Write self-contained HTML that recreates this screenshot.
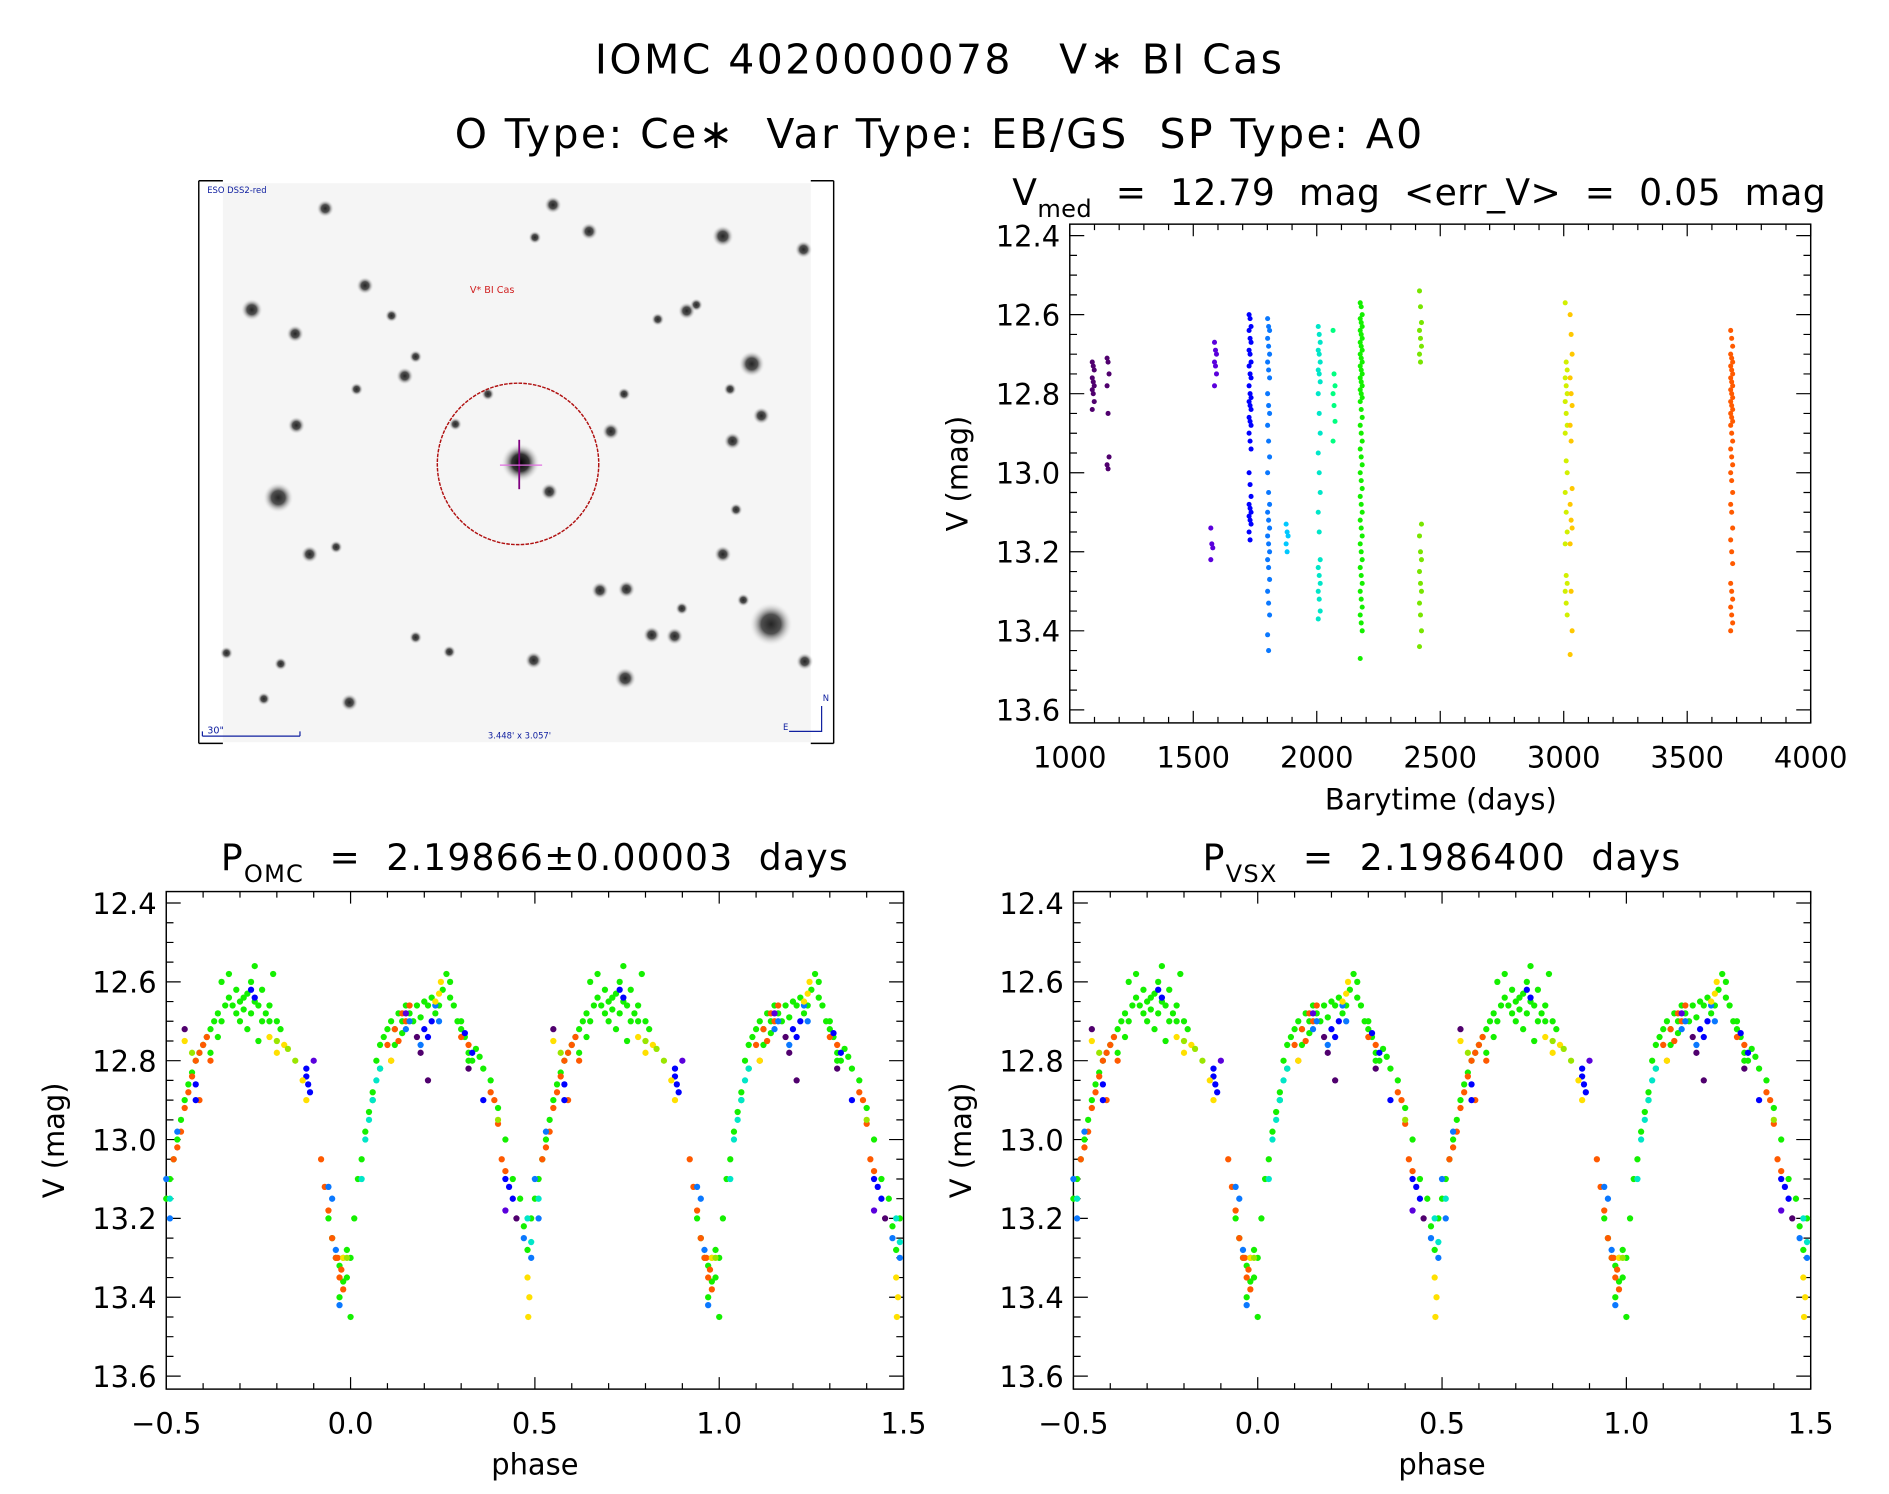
<!DOCTYPE html>
<html><head><meta charset="utf-8"><style>
html,body{margin:0;padding:0;background:#fff;}
svg{display:block;font-family:"DejaVu Sans","Liberation Sans",sans-serif;}
text{white-space:pre;}
</style></head><body>
<svg id="fig" width="1889" height="1494" viewBox="0 0 1568 1240" xmlns="http://www.w3.org/2000/svg">
<defs>
<radialGradient id="star"><stop offset="0" stop-color="#000"/><stop offset="0.45" stop-color="#333"/><stop offset="1" stop-color="#eee" stop-opacity="0"/></radialGradient>
</defs>
<text x="780" y="61" font-size="34" text-anchor="middle" letter-spacing="2">IOMC 4020000078   V∗ BI Cas</text>
<text x="780" y="123" font-size="34" text-anchor="middle" letter-spacing="2">O Type: Ce∗  Var Type: EB/GS  SP Type: A0</text>
<g id="img"></g>
<g id="p1"></g>
<g id="p2"></g>
<g id="p3"></g>
</svg>
<script>
// ---- time series data ----
const groupTimes = [1095,1155,1575,1590,1730,1805,1880,2010,2070,2180,2420,3010,3030,3680];
const groupColors = ['#50006e','#50006e','#5a00dc','#5a00dc','#0000ff','#0a78ff','#00c8ff','#00e6c8','#00ff80','#14f000','#78e600','#d2f000','#ffc800','#ff5a00'];
const groupMags = [
 [12.72,12.73,12.74,12.76,12.77,12.78,12.79,12.8,12.82,12.84],
 [12.71,12.72,12.75,12.78,12.85,12.96,12.98,12.99],
 [13.14,13.18,13.19,13.22],
 [12.67,12.69,12.7,12.72,12.73,12.75,12.78],
 [12.6,12.61,12.63,12.64,12.66,12.67,12.69,12.7,12.72,12.73,12.75,12.76,12.78,12.8,12.81,12.82,12.83,12.84,12.86,12.87,12.88,12.9,12.92,12.94,13.0,13.03,13.06,13.08,13.09,13.1,13.11,13.12,13.13,13.15,13.17],
 [12.61,12.63,12.64,12.66,12.68,12.7,12.72,12.74,12.76,12.8,12.83,12.85,12.88,12.92,12.96,13.0,13.05,13.08,13.1,13.12,13.14,13.16,13.18,13.2,13.22,13.24,13.27,13.3,13.33,13.36,13.41,13.45],
 [13.13,13.15,13.16,13.18,13.2],
 [12.63,12.65,12.67,12.69,12.7,12.72,12.74,12.75,12.77,12.8,12.85,12.9,12.95,13.0,13.05,13.1,13.15,13.22,13.24,13.26,13.28,13.3,13.32,13.35,13.37],
 [12.64,12.75,12.78,12.8,12.83,12.87,12.92],
 [12.57,12.58,12.6,12.61,12.62,12.63,12.64,12.65,12.66,12.67,12.68,12.69,12.7,12.71,12.72,12.73,12.74,12.75,12.76,12.77,12.78,12.79,12.8,12.81,12.82,12.84,12.86,12.88,12.9,12.92,12.94,12.96,12.98,13.0,13.02,13.04,13.06,13.08,13.1,13.12,13.14,13.16,13.18,13.2,13.22,13.24,13.26,13.28,13.3,13.32,13.34,13.36,13.38,13.4,13.47],
 [12.54,12.58,12.62,12.64,12.66,12.68,12.7,12.72,13.13,13.16,13.2,13.22,13.25,13.28,13.3,13.33,13.36,13.4,13.44],
 [12.57,12.72,12.74,12.76,12.78,12.8,12.82,12.85,12.88,12.9,12.97,13.0,13.05,13.1,13.15,13.18,13.26,13.28,13.3,13.33,13.36],
 [12.6,12.65,12.7,12.76,12.8,12.83,12.88,12.92,13.04,13.08,13.12,13.14,13.18,13.3,13.4,13.46],
 [12.64,12.66,12.68,12.7,12.71,12.72,12.73,12.74,12.75,12.76,12.77,12.78,12.79,12.8,12.81,12.82,12.83,12.84,12.85,12.86,12.87,12.88,12.9,12.92,12.94,12.96,12.98,13.0,13.02,13.05,13.08,13.1,13.14,13.17,13.2,13.23,13.28,13.3,13.32,13.34,13.36,13.38,13.4]
];
// ---- phase data (phase in [-0.5,0.5)) ----
const phaseColors = ['#14f000','#ff5a00','#0000ff','#0a78ff','#00e6c8','#ffe000','#9ae600','#50006e','#5a00dc'];
const phasePh = [
 [-0.5,-0.49,-0.48,-0.47,-0.46,-0.45,-0.44,-0.43,-0.42,-0.41,-0.4,-0.39,-0.38,-0.37,-0.36,-0.35,-0.34,-0.33,-0.32,-0.31,-0.3,-0.29,-0.28,-0.27,-0.26,-0.25,-0.24,-0.23,-0.22,-0.21,-0.2,-0.19,-0.35,-0.3,-0.28,-0.33,-0.26,-0.38,-0.36,-0.25,-0.22,-0.31,-0.29,-0.27,-0.24,-0.06,-0.05,-0.04,-0.03,-0.02,-0.01,0.0,-0.03,0.0,0.01,0.02,0.03,0.04,0.05,0.06,0.07,0.08,0.09,0.1,0.11,0.12,0.13,0.14,0.15,0.16,0.18,0.2,0.22,0.24,0.25,0.26,0.27,0.28,0.29,0.3,0.31,0.32,0.33,0.34,0.36,0.38,0.4,0.42,0.44,0.46,0.47,0.48,0.49,0.12,0.14,0.17,0.19,0.21,0.23,0.27,0.3,0.32,0.35,-0.01,-0.02,0.08,0.06],
 [-0.48,-0.46,-0.45,-0.44,-0.43,-0.42,-0.41,-0.4,-0.39,-0.38,-0.41,-0.47,-0.08,-0.07,-0.06,-0.05,-0.04,-0.03,-0.02,-0.025,-0.035,0.1,0.12,0.14,0.16,0.13,0.11,0.15,0.3,0.32,0.38,0.39,0.4,0.41,0.42],
 [-0.12,-0.115,-0.11,-0.12,-0.42,-0.42,0.2,0.21,0.22,0.36,0.42,0.43,0.44,0.31,-0.27,-0.26,0.33],
 [-0.5,-0.49,-0.05,-0.06,-0.04,-0.03,0.15,0.16,0.23,0.24,0.47,0.49,-0.47,0.19],
 [0.03,0.04,0.05,0.06,0.07,0.48,0.49,-0.49,0.08],
 [-0.22,-0.2,-0.18,-0.13,-0.12,0.23,0.24,0.245,0.48,0.485,0.482,-0.02,0.11,-0.45],
 [-0.2,-0.17,-0.15,0.4,-0.01,-0.43],
 [-0.45,0.18,0.19,0.32,0.21,0.45],
 [0.15,0.42,-0.1]
];
const phaseMag = [
 [13.15,13.1,13.05,13.0,12.95,12.9,12.86,12.83,12.8,12.78,12.76,12.74,12.72,12.7,12.68,12.7,12.66,12.64,12.66,12.62,12.65,12.67,12.63,12.6,12.65,12.66,12.62,12.68,12.66,12.58,12.7,12.72,12.6,12.7,12.72,12.58,12.56,12.78,12.74,12.75,12.7,12.68,12.64,12.68,12.7,13.2,13.25,13.3,13.32,13.3,13.35,13.3,13.4,13.45,13.2,13.1,13.05,12.98,12.93,12.88,12.8,12.76,12.74,12.72,12.7,12.72,12.68,12.7,12.66,12.68,12.66,12.65,12.64,12.66,12.62,12.58,12.6,12.66,12.7,12.72,12.74,12.78,12.8,12.77,12.82,12.85,12.92,13.0,13.1,13.15,13.22,13.28,13.2,12.76,12.73,12.7,12.69,12.66,12.68,12.64,12.7,12.8,12.79,13.28,13.36,12.82,12.9],
 [13.05,12.98,12.92,12.88,12.84,12.8,12.78,12.76,12.74,12.8,12.9,13.02,13.05,13.12,13.18,13.25,13.3,13.35,13.38,13.33,13.3,12.76,12.72,12.68,12.66,12.75,12.8,12.7,12.74,12.76,12.88,12.9,12.96,13.05,13.08],
 [12.82,12.86,12.88,12.84,12.86,12.9,12.72,12.74,12.7,12.9,13.1,13.12,13.15,12.73,12.62,12.64,12.78],
 [13.1,13.2,13.15,13.12,13.28,13.42,12.72,12.7,12.66,12.7,13.25,13.3,12.98,12.76],
 [13.1,13.0,12.95,12.9,12.85,13.2,13.26,13.15,12.82],
 [12.74,12.78,12.76,12.85,12.9,12.65,12.63,12.6,13.35,13.4,13.45,13.3,12.8,12.75],
 [12.75,12.77,12.8,12.95,13.3,12.78],
 [12.72,12.74,12.78,12.82,12.85,13.2],
 [12.68,13.18,12.8]
];
const yTicks = [12.4,12.6,12.8,13.0,13.2,13.4,13.6];
const yTickLabels = ['12.4','12.6','12.8','13.0','13.2','13.4','13.6'];
const tTicks = [1000,1500,2000,2500,3000,3500,4000];
const tTickLabels = ['1000','1500','2000','2500','3000','3500','4000'];
const phTicks = [-0.5,0,0.5,1.0,1.5];
const phTickLabels = ['\u22120.5','0.0','0.5','1.0','1.5'];
// sky image stars [x,y,r]
const stars = [[209,257,5],[245,277,4],[303,237,4],[336,312,4],[345,296,3],[325,262,3],[246,353,4],[231,413,7],[296,323,3],[270,173,4],[459,170,4],[489,192,4],[600,196,5],[578,253,3],[570,258,4],[624,302,6],[606,323,3],[632,345,4],[608,366,4],[456,408,4],[507,358,4],[518,327,3],[546,265,3],[444,197,3],[667,207,4],[257,460,4],[279,454,3],[498,490,4],[520,489,4],[600,460,4],[611,423,3],[617,498,3],[640,518,10],[541,527,4],[560,528,4],[443,548,4],[345,529,3],[373,541,3],[290,583,4],[219,580,3],[519,563,5],[566,505,3],[668,549,4],[233,551,3],[188,542,3],[405,327,3],[378,352,3]];

const NS='http://www.w3.org/2000/svg';
function mk(parent,tag,attrs,txt){const e=document.createElementNS(NS,tag);for(const k in attrs)e.setAttribute(k,attrs[k]);if(txt!==undefined)e.textContent=txt;parent.appendChild(e);return e;}

// --- sky image ---
(function(){
 const g=document.getElementById('img');
 const bg=mk(g,'rect',{x:185,y:152,width:488,height:464,fill:'#f5f5f5'});
 
 
 stars.forEach(s=>{const c=mk(g,'circle',{cx:s[0],cy:s[1],r:s[2]*1.8,fill:'url(#star)',opacity:0.85});
  
  });
 const t=mk(g,'circle',{cx:432,cy:384,r:16,fill:'url(#star)'});
 
 
 const ring=mk(g,'ellipse',{cx:430,cy:385,rx:67,ry:67,fill:'none',stroke:'#b01010','stroke-width':1.2,'stroke-dasharray':'3 1'});
 
 
 mk(g,'line',{x1:431,y1:365,x2:431,y2:406,stroke:'#800080','stroke-width':1.5});
 mk(g,'line',{x1:415,y1:386,x2:450,y2:386,stroke:'#e070e0','stroke-width':1});
 const fr=mk(g,'path',{d:'M165 150 V617 M165 150 H185 M165 617 H185 M692 150 V617 M673 150 H692 M673 617 H692',stroke:'#000','stroke-width':1.2,fill:'none'});
 
 
 const l1=mk(g,'text',{x:172,y:160,'font-size':7,fill:'#1020a0'},'ESO DSS2-red');
 
 
 const l2=mk(g,'text',{x:390,y:243,'font-size':8,fill:'#d02020'},'V* BI Cas');
 
 
 mk(g,'path',{d:'M168 611 H249 M168 607 V611 M249 607 V611',stroke:'#1020a0','stroke-width':1,fill:'none'});
 const l3=mk(g,'text',{x:172,y:609,'font-size':8,fill:'#1020a0'},'30"');
 
 
 const l4=mk(g,'text',{x:405,y:613,'font-size':7,fill:'#1020a0'},"3.448' x 3.057'");
 
 
 mk(g,'path',{d:'M655 607 H682 V586',stroke:'#1020a0','stroke-width':1,fill:'none'});
 mk(g,'text',{x:683,y:582,'font-size':7,fill:'#1020a0'},'N');
 mk(g,'text',{x:650,y:606,'font-size':7,fill:'#1020a0'},'E');
})();

function axes(g,x0,x1,y0,y1,xmin,xmax,xt,xtl,xminor,ymin,ymax){
 const sx=v=>x0+(v-xmin)/(xmax-xmin)*(x1-x0);
 const sy=v=>y0+(v-ymin)/(ymax-ymin)*(y1-y0);
 const fr=mk(g,'rect',{x:x0,y:y0,width:x1-x0,height:y1-y0,fill:'none',stroke:'#000','stroke-width':1.2});
 
 
 let d='';
 for(let v=Math.round(xmin/xminor);v*xminor<=xmax+1e-9;v++){const x=sx(v*xminor);const isMaj=xt.some(t=>Math.abs(t-v*xminor)<1e-6);const L=isMaj?10:5;d+=`M${x} ${y1}V${y1-L}M${x} ${y0}V${y0+L}`;}
 for(let v=Math.ceil(ymin/0.05-1e-6);v*0.05<=ymax+1e-9;v++){const y=sy(v*0.05);const L=(v%4===0)?12:6;d+=`M${x0} ${y}H${x0+L}M${x1} ${y}H${x1-L}`;}
 mk(g,'path',{d:d,stroke:'#000','stroke-width':1,fill:'none'});
 xt.forEach((t,i)=>{const e=mk(g,'text',{x:sx(t),y:y1+37,'font-size':24,'text-anchor':'middle'},xtl[i]);
  
  });
 yTicks.forEach((t,i)=>{const e=mk(g,'text',{x:x0-8,y:sy(t)+9,'font-size':24,'text-anchor':'end'},yTickLabels[i]);
  
  });
 const yl=mk(g,'text',{x:0,y:0,'font-size':24,'text-anchor':'middle',transform:`translate(${x0-85},${(y0+y1)/2}) rotate(-90)`},'V (mag)');
 
 
 return {sx,sy};
}
const YMIN=12.371, YMAX=13.633;
// time plot
(function(){
 const g=document.getElementById('p1');
 const a=axes(g,888,1503,186,600,1000,4000,tTicks,tTickLabels,100,YMIN,YMAX);
 const t=mk(g,'text',{x:1178,y:170,'font-size':30,'text-anchor':'middle','letter-spacing':0.3});
 
 
 t.innerHTML='V<tspan font-size="20" dy="10">med</tspan><tspan dy="-10">  =  12.79  mag  &lt;err_V&gt;  =  0.05  mag</tspan>';
 const xl=mk(g,'text',{x:1196,y:672,'font-size':24,'text-anchor':'middle'},'Barytime (days)');
 
 
 groupTimes.forEach((tm,gi)=>{groupMags[gi].forEach((m,j)=>{
  const c=mk(g,'circle',{cx:a.sx(tm+((j%3)-1)*4),cy:a.sy(m),r:2.1,fill:groupColors[gi]});
  
  });});
})();
function phasePlot(id,x0,x1,titleMain,titleSub,titleRest){
 const g=document.getElementById(id);
 const a=axes(g,x0,x1,740,1153,-0.5,1.5,phTicks,phTickLabels,0.1,YMIN,YMAX);
 const t=mk(g,'text',{x:(x0+x1)/2,y:722,'font-size':30,'text-anchor':'middle','letter-spacing':1});
 
 
 t.innerHTML=titleMain+'<tspan font-size="20" dy="10">'+titleSub+'</tspan><tspan dy="-10">'+titleRest+'</tspan>';
 const xl=mk(g,'text',{x:(x0+x1)/2,y:1224,'font-size':24,'text-anchor':'middle'},'phase');
 
 
 phasePh.forEach((arr,gi)=>{arr.forEach((p,j)=>{[p,p+1].forEach(pp=>{
  if(pp<-0.5||pp>1.5)return;
  const c=mk(g,'circle',{cx:a.sx(pp),cy:a.sy(phaseMag[gi][j]),r:2.6,fill:phaseColors[gi]});
  
  });});});
}
phasePlot('p2',138,750,'P','OMC','  =  2.19866±0.00003  days');
phasePlot('p3',891,1503,'P','VSX','  =  2.1986400  days');
</script>
</body></html>
